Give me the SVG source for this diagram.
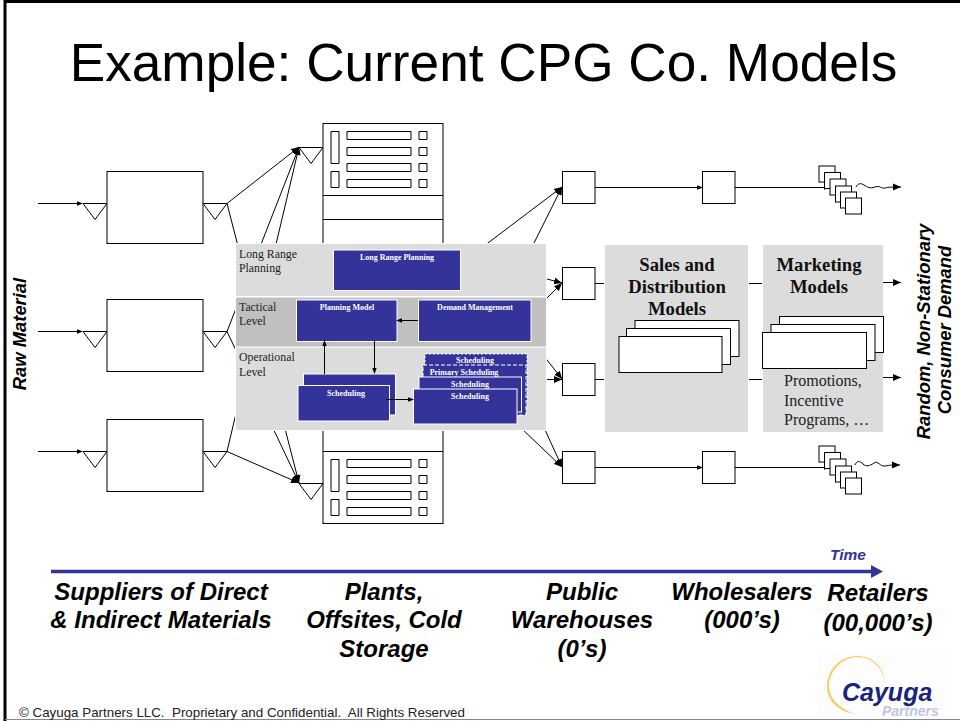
<svg xmlns="http://www.w3.org/2000/svg" width="960" height="721" viewBox="0 0 960 721">
<style>
.b{fill:#fff;stroke:#000;stroke-width:1}
.c{fill:none;stroke:#000;stroke-width:1}
.s{font-family:"Liberation Sans",Arial,sans-serif}
.lab{font-family:"Liberation Sans",Arial,sans-serif;font-weight:bold;font-style:italic;fill:#000}
.big{font-size:24px;text-anchor:middle}
.rot{font-size:18.4px;text-anchor:middle}
.se{font-family:"Liberation Serif","Times New Roman",serif;fill:#222}
.lv{font-size:11.8px}
.hd{font-size:18.7px;font-weight:bold;fill:#111;text-anchor:middle}
.pr{font-size:16px}
.bl{fill:#333399;stroke:#fff;stroke-width:1}
.bt{font-family:"Liberation Serif","Times New Roman",serif;font-size:8px;font-weight:bold;fill:#fff;text-anchor:middle}
</style>
<defs>
<marker id="a" markerUnits="userSpaceOnUse" markerWidth="7" markerHeight="5" refX="5" refY="2.500" orient="auto"><path d="M0,0.300L6,2.500L0,4.700Z" fill="#000"/></marker>
<marker id="ab" markerUnits="userSpaceOnUse" markerWidth="9" markerHeight="8" refX="8" refY="4" orient="auto"><path d="M0,0.500L8,4L0,7.500Z" fill="#000"/></marker>
<g id="tri"><path class="b" d="M0,0.500H24L12,16.500Z"/></g>
<g id="plantrows"><path class="b" d="M8,0h8v32h-8zM8,40h8v16h-8zM24,0h64v8h-64zM24,16h64v8h-64zM24,32h64v8h-64zM24,48h64v8h-64zM96,0h8v8h-8zM96,16h8v8h-8zM96,32h8v8h-8zM96,48h8v8h-8z"/></g>
<g id="stack"><rect class="b" x="819" y="166" width="16" height="16"/><rect class="b" x="824.500" y="172.500" width="16" height="16"/><rect class="b" x="830" y="179" width="16" height="16"/><rect class="b" x="835.500" y="186" width="16" height="16"/><rect class="b" x="840.500" y="192" width="16" height="16"/><rect class="b" x="845.500" y="198" width="16" height="16"/></g>
</defs>
<rect width="960" height="721" fill="#fff"/>
<g id="frame"><path d="M5,721V1.500H960" fill="none" stroke="#000" stroke-width="3"/><path d="M5,719.500H960" stroke="#888" stroke-width="1"/></g>
<text id="title" class="s" x="483.500" y="81" font-size="53.200" text-anchor="middle" fill="#000">Example: Current CPG Co. Models</text>
<g id="connectors">
<path class="c" marker-end="url(#a)" d="M38,203.500H82"/><path class="c" marker-end="url(#a)" d="M38,331.500H82"/><path class="c" marker-end="url(#a)" d="M38,451.500H82"/>
<path class="c" marker-end="url(#ab)" d="M227,203.500L299,147"/><path class="c" marker-end="url(#ab)" d="M227,331.500L299,147"/><path class="c" marker-end="url(#ab)" d="M227,451.500L299,147"/>
<path class="c" marker-end="url(#ab)" d="M227,203.500L299,483"/><path class="c" marker-end="url(#ab)" d="M227,331.500L299,483"/><path class="c" marker-end="url(#ab)" d="M227,451.500L299,483"/>
<path class="c" marker-end="url(#ab)" d="M480,249L562,187"/><path class="c" marker-end="url(#ab)" d="M530,251L562,187"/>
<path class="c" marker-end="url(#ab)" d="M500,266.500L562,283"/><path class="c" marker-end="url(#ab)" d="M500,345L562,283"/>
<path class="c" marker-end="url(#ab)" d="M500,300L562,379"/><path class="c" marker-end="url(#ab)" d="M500,379.500H562"/>
<path class="c" marker-end="url(#ab)" d="M500,408L562,467"/><path class="c" marker-end="url(#ab)" d="M530,397L562,467"/>
<path class="c" marker-end="url(#a)" d="M595,187.500H702"/><path class="c" marker-end="url(#a)" d="M735,187.500H829"/>
<path class="c" marker-end="url(#a)" d="M595,467.500H702"/><path class="c" marker-end="url(#a)" d="M735,467.500H829"/>
<path class="c" d="M595,283.500H604M749,283.500H762M595,379.500H604M749,379.500H762"/>
<path class="c" marker-end="url(#ab)" d="M883,282.500H901"/><path class="c" marker-end="url(#ab)" d="M883,377.500H901"/>
<path class="c" marker-end="url(#ab)" d="M856,187C858,183 861,183 864,185S870,189 875,187S881,189 885,188S892,187 901,187"/>
<path class="c" marker-end="url(#ab)" d="M855,465C857,460 860,461 863,464S870,466 874,463S880,467 885,466S892,465 900,465"/>
</g>
<g id="suppliers">
<use href="#tri" x="83" y="203"/><rect class="b" x="107" y="171.500" width="96" height="72"/><use href="#tri" x="203" y="203"/>
<use href="#tri" x="83" y="331"/><rect class="b" x="107" y="299.500" width="96" height="72"/><use href="#tri" x="203" y="331"/>
<use href="#tri" x="83" y="451"/><rect class="b" x="107" y="419.500" width="96" height="72"/><use href="#tri" x="203" y="451"/>
</g>
<g id="plant-top">
<use href="#tri" x="299" y="147"/><rect class="b" x="323" y="123.500" width="120" height="130"/><path class="c" d="M323,195.500H443M323,219.500H443"/><use href="#plantrows" x="323" y="131.500"/>
</g>
<g id="plant-bottom">
<rect class="b" x="323" y="420" width="120" height="103.500"/><path class="c" d="M323,451.500H443"/><use href="#plantrows" x="323" y="459.500"/><use href="#tri" x="299" y="483"/>
</g>
<g id="warehouses"><rect class="b" x="562.500" y="171.500" width="32.500" height="32"/><rect class="b" x="562.500" y="267.500" width="32.500" height="32"/><rect class="b" x="562.500" y="363.500" width="32.500" height="32"/><rect class="b" x="562.500" y="451.500" width="32.500" height="32"/></g>
<g id="wholesalers"><rect class="b" x="702.500" y="171.500" width="32.500" height="32"/><rect class="b" x="702.500" y="451.500" width="32.500" height="32"/></g>
<g id="retailers-top"><use href="#stack"/></g>
<g id="retailers-bottom"><use href="#stack" y="280"/></g>
<g id="planning-panel">
<rect x="235" y="243" width="312" height="188" fill="#fff"/>
<rect x="236" y="244" width="310" height="52" fill="#dcdcdc"/><rect x="236" y="297.500" width="310" height="49" fill="#c0c0c0"/><rect x="236" y="347.500" width="310" height="82.500" fill="#dcdcdc"/>
<g class="se lv"><text x="239" y="258">Long Range</text><text x="239" y="272">Planning</text><text x="239" y="311">Tactical</text><text x="239" y="325">Level</text><text x="239" y="361">Operational</text><text x="239" y="376">Level</text></g>
</g>
<g id="long-range"><rect class="bl" x="333.500" y="250" width="127" height="40.500"/><text class="bt" x="397" y="260">Long Range Planning</text></g>
<g id="planning-model"><rect class="bl" x="296.500" y="300" width="100.500" height="41.500"/><text class="bt" x="347" y="310">Planning Model</text></g>
<g id="demand"><rect class="bl" x="418.500" y="300" width="112.500" height="41.500"/><text class="bt" x="475" y="310">Demand Management</text></g>
<g id="sched-left"><rect class="bl" x="303.500" y="374" width="92" height="41"/><rect class="bl" x="298" y="385.500" width="91.500" height="35.500"/><text class="bt" x="346" y="396">Scheduling</text></g>
<g id="sched-right">
<rect class="bl" x="425" y="354" width="102" height="52" stroke-dasharray="2 2"/><text class="bt" x="475" y="363">Scheduling</text>
<rect class="bl" x="423" y="365" width="103" height="50" stroke-dasharray="4 2"/><text class="bt" x="464" y="375">Primary Scheduling</text>
<rect class="bl" x="419" y="377" width="102.500" height="35"/><text class="bt" x="470" y="387">Scheduling</text>
<rect class="bl" x="413.500" y="389" width="103.500" height="35"/><text class="bt" x="470" y="399">Scheduling</text>
</g>
<g id="panel-arrows"><path class="c" marker-end="url(#a)" d="M418,320.500H397"/><path class="c" marker-end="url(#a)" d="M324.500,374V341"/><path class="c" marker-end="url(#a)" d="M374.500,341V373"/><path class="c" marker-end="url(#a)" d="M386,399.500H413"/></g>
<g id="sales">
<rect x="605" y="245" width="143" height="187" fill="#dcdcdc"/>
<text class="se hd" x="677" y="271">Sales and</text><text class="se hd" x="677" y="293">Distribution</text><text class="se hd" x="677" y="315">Models</text>
<rect class="b" x="635" y="320.500" width="104" height="36"/><rect class="b" x="626.500" y="328.500" width="104" height="36"/><rect class="b" x="619" y="336.500" width="103" height="36"/>
</g>
<g id="marketing">
<rect x="763" y="245" width="120" height="187" fill="#dcdcdc"/>
<text class="se hd" x="819" y="271">Marketing</text><text class="se hd" x="819" y="293">Models</text>
<rect class="b" x="779.500" y="316.500" width="104" height="36"/><rect class="b" x="771" y="324.500" width="104" height="36"/><rect class="b" x="762.500" y="332.500" width="104" height="36"/>
<g class="se pr"><text x="784" y="386">Promotions,</text><text x="784" y="406">Incentive</text><text x="784" y="425">Programs, …</text></g>
</g>
<g id="side-labels">
<text class="lab rot" transform="translate(25.500,334) rotate(-90)">Raw Material</text>
<text class="lab rot" transform="translate(930,331.500) rotate(-90)">Random, Non-Stationary</text>
<text class="lab rot" transform="translate(951,330) rotate(-90)">Consumer Demand</text>
</g>
<g id="timeline"><path d="M51,571.500H873" stroke="#333399" stroke-width="3.500" fill="none"/><path d="M871,565L883,571.500L871,578Z" fill="#333399"/><text class="lab" x="830" y="560" font-size="15.500" style="fill:#333399">Time</text></g>
<g id="axis-labels">
<text class="lab big" x="161" y="600">Suppliers of Direct</text><text class="lab big" x="161" y="628">&amp; Indirect Materials</text>
<text class="lab big" x="384" y="600">Plants,</text><text class="lab big" x="384" y="628">Offsites, Cold</text><text class="lab big" x="384" y="657">Storage</text>
<text class="lab big" x="582" y="600">Public</text><text class="lab big" x="582" y="628">Warehouses</text><text class="lab big" x="582" y="657">(0’s)</text>
<text class="lab big" x="742" y="600">Wholesalers</text><text class="lab big" x="742" y="628">(000’s)</text>
<text class="lab big" x="878" y="601">Retailers</text><text class="lab big" x="878" y="631">(00,000’s)</text>
</g>
<text id="footer" class="s" x="19" y="717" font-size="13.350" fill="#222" style="white-space:pre">© Cayuga Partners LLC.  Proprietary and Confidential.  All Rights Reserved</text>
<g id="logo">
<rect x="819" y="652" width="127" height="66" fill="#fdfdfd"/>
<path d="M885,683C884,666 872,656 857,656C840,656 827,670 827,687C827,700 838,712 856,714C842,710 829,700 829,686C829,671 842,657 858,657C872,657 883,668 885,683Z" fill="#fcc864"/>
<text class="s" x="842" y="700.500" font-size="25" font-weight="bold" font-style="italic" fill="#1a237e">Cayuga</text>
<text class="s" x="882" y="716" font-size="14" font-weight="bold" font-style="italic" fill="#c2c6e0">Partners</text>
</g>
</svg>
